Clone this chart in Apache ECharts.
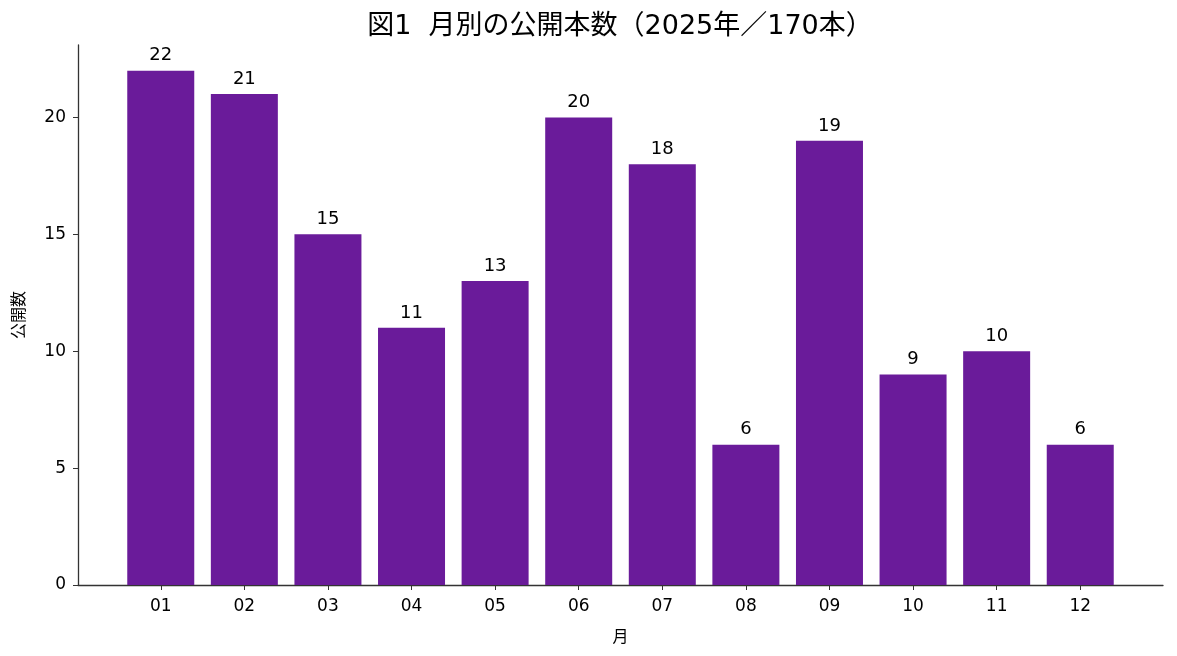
<!DOCTYPE html>
<html>
<head>
<meta charset="utf-8">
<script src="https://cdn.jsdelivr.net/npm/echarts@6/dist/echarts.min.js"></script>
<style>html,body{margin:0;padding:0;background:#fff}#c{width:1177px;height:656px}</style>
</head>
<body>
<div id="c"></div>
<script>
const months = ['01','02','03','04','05','06','07','08','09','10','11','12'];
const counts = [22, 21, 15, 11, 13, 20, 18, 6, 19, 9, 10, 6];
const yTicks = [0, 5, 10, 15, 20];
const titleText = '図1  月別の公開本数（2025年／170本）';

const FONT = '"DejaVu Sans", "Noto Sans CJK JP", sans-serif';
const CJK = '"Noto Sans CJK JP", sans-serif';
const chart = echarts.init(document.getElementById('c'), null, {renderer: 'canvas'});
const positions = months.map((m, i) => i);
chart.setOption({
  animation: false,
  backgroundColor: '#fff',
  textStyle: {fontFamily: FONT},
  title: {
    text: titleText, left: 615, top: 8, textAlign: 'center',
    textStyle: {fontFamily: FONT, fontSize: 27, fontWeight: 'normal', color: '#000'}
  },
  grid: {left: 78, right: 14, top: 45, bottom: 71, containLabel: false},
  xAxis: {
    type: 'value', min: -0.99, max: 11.99,
    name: '月', nameLocation: 'middle', nameGap: 43,
    nameTextStyle: {fontFamily: CJK, fontSize: 16, color: '#000'},
    axisLine: {show: true, onZero: false, lineStyle: {color: '#333', width: 1.3}},
    axisTick: {show: true, customValues: positions, length: 5, lineStyle: {color: '#333'}},
    axisLabel: {
      customValues: positions, margin: 13,
      fontFamily: FONT, fontSize: 17, color: '#000',
      formatter: v => months[Math.round(v)]
    },
    splitLine: {show: false}
  },
  yAxis: {
    type: 'value', min: 0, max: 23.1,
    name: '公開数', nameLocation: 'middle', nameGap: 52, nameRotate: 90,
    nameTextStyle: {fontFamily: CJK, fontSize: 16, color: '#000'},
    axisLine: {show: true, onZero: false, lineStyle: {color: '#333', width: 1.3}},
    axisTick: {show: true, customValues: yTicks, length: 5, lineStyle: {color: '#333'}},
    axisLabel: {customValues: yTicks, margin: 12, fontFamily: FONT, fontSize: 17, color: '#000', padding: [6, 0, 0, 0]},
    splitLine: {show: false}
  },
  series: [{
    type: 'bar',
    data: counts.map((c, i) => [positions[i], c]),
    barWidth: 67,
    itemStyle: {color: '#6A1B9A'},
    label: {
      show: true, position: 'top', distance: 6,
      fontFamily: FONT, fontSize: 18, color: '#000',
      formatter: p => String(p.value[1])
    }
  }]
});
</script>
</body>
</html>
